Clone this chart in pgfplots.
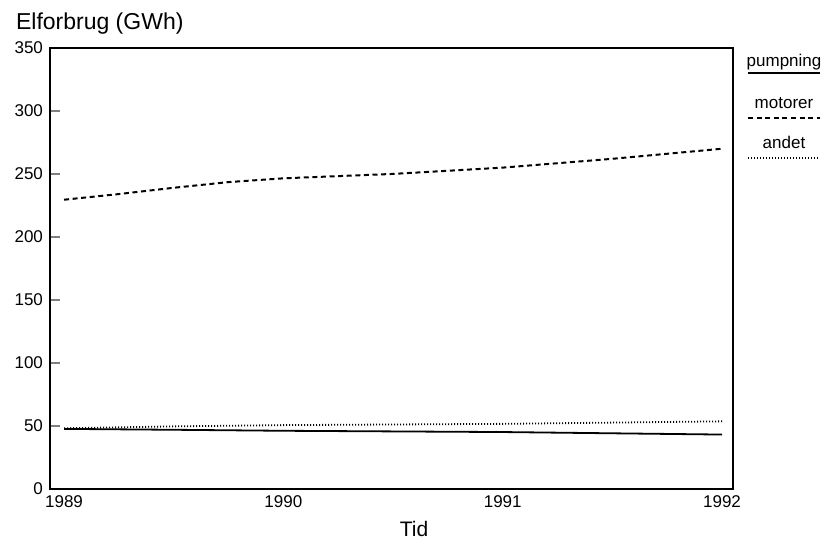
\documentclass[border=0pt]{standalone}
\usepackage{fontspec}
\setmainfont{Liberation Sans}
\usepackage{pgfplots}
\pgfplotsset{compat=1.18}

\begin{document}
\begin{tikzpicture}
% page = 822x546 px at 0.5pt/px, axis box SW corner at px (50,488.7)
\useasboundingbox (-25pt,-28.65pt) rectangle (386pt,244.35pt);
\begin{axis}[
  at={(0,0)}, anchor=south west,
  scale only axis,
  width=341.5pt, height=220.35pt,
  xmin=1988.936, xmax=1992.05,
  ymin=0, ymax=350,
  xtick={1989,1990,1991,1992},
  ytick={0,50,100,150,200,250,300,350},
  xticklabel style={/pgf/number format/1000 sep={}},
  tick label style={font=\fontsize{8.5}{10}\selectfont},
  /pgf/number format/assume math mode=true,
  major x tick style={draw=none},
  ytick pos=left,
  tick align=inside,
  major tick length=5pt,
  axis line style={line width=1pt},
  ytick style={line width=0.8pt},
]
\addplot[black, line width=0.9pt] coordinates {
  (1989,47.5)(1989.5,46.8)(1990,46)(1990.5,45.5)(1991,45)(1991.5,44)(1992,43)
};
\addplot[black, line width=1pt, dash pattern=on 2.5pt off 1.8pt] coordinates {
  (1989,229.5)(1989.25,234)(1989.5,239)(1989.75,243.5)(1990,246.5)
  (1990.5,250)(1991,255)(1991.5,262)(1992,270)
};
\addplot[black, line width=0.9pt, dash pattern=on 0.5pt off 1pt] coordinates {
  (1989,48)(1989.5,49.5)(1990,50.5)(1990.5,51)(1991,51.5)(1991.5,52.5)(1992,53.5)
};
\end{axis}
% title and axis label
\node[anchor=base west, font=\fontsize{11.5}{13}\selectfont] at (-20.5pt,229.35pt) {Elforbrug (GWh)};
\node[anchor=base, font=\fontsize{10.5}{12}\selectfont] at (182pt,-24pt) {Tid};
% legend: text above line sample
\begin{scope}[font=\fontsize{8.5}{10}\selectfont]
\node[anchor=base] at (367pt,211pt) {pumpning};
\draw[line width=1pt] (349pt,207.7pt) -- (385pt,207.7pt);
\node[anchor=base] at (367pt,190pt) {motorer};
\draw[line width=1pt, dash pattern=on 2.5pt off 1.8pt] (349pt,185.5pt) -- (385pt,185.5pt);
\node[anchor=base] at (367pt,170pt) {andet};
\draw[line width=0.9pt, dash pattern=on 0.5pt off 1pt] (349pt,165.35pt) -- (385pt,165.35pt);
\end{scope}
\end{tikzpicture}
\end{document}
